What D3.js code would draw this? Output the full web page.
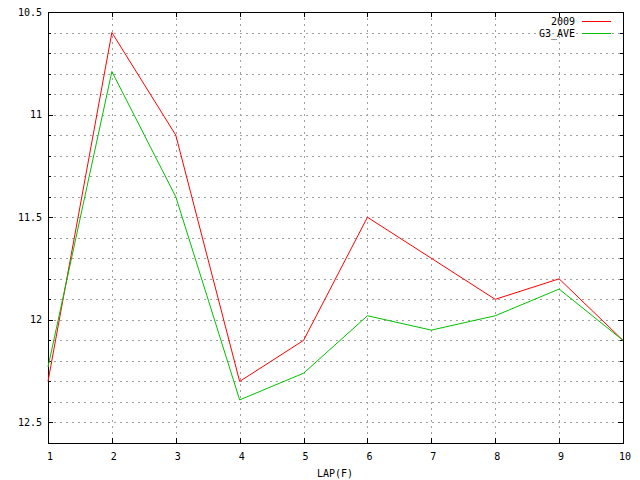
<!DOCTYPE html>
<html><head><meta charset="utf-8">
<script src="https://cdn.jsdelivr.net/npm/d3@7"></script>
<style>body{margin:0;background:#fff}svg{display:block}text{font-family:"DejaVu Sans Mono",monospace;font-size:10px;fill:#000}</style>
</head><body>
<script>
const laps = [1,2,3,4,5,6,7,8,9,10];
const s2009 = [12.3,10.6,11.1,12.3,12.1,11.5,11.7,11.9,11.8,12.1];
const g3ave = [12.23,10.79,11.4,12.39,12.26,11.98,12.05,11.98,11.85,12.1];
const yTicks = [10.5,11,11.5,12,12.5];
const seriesNames = ["2009","G3_AVE"];
const seriesColors = ["#ff0000","#00c000"];

const W=640,H=480,L=48,R=623,T=12,B=443;
const svg=d3.select("body").append("svg").attr("width",W).attr("height",H);
const x=d3.scaleLinear().domain([1,10]).range([L,R]);
const y=d3.scaleLinear().domain([10.5,12.6]).range([T,B]);
const minor=d3.range(106,126).map(v=>v/10);

const g=svg.append("g").attr("shape-rendering","crispEdges");
// grid
g.selectAll(".gh").data(minor.filter(v=>v>10.5&&v<12.6)).enter().append("line")
 .attr("x1",L).attr("x2",R).attr("y1",d=>Math.round(y(d))+0.5).attr("y2",d=>Math.round(y(d))+0.5)
 .attr("stroke","#a0a0a0").attr("stroke-dasharray","2,4");
g.selectAll(".gv").data(laps.slice(1,-1)).enter().append("line")
 .attr("y1",T).attr("y2",B).attr("x1",d=>Math.round(x(d))+0.5).attr("x2",d=>Math.round(x(d))+0.5)
 .attr("stroke","#a0a0a0").attr("stroke-dasharray","2,4");
// ticks
minor.concat([12.5,12.6]).forEach(v=>{
  const major=Math.abs(v*2-Math.round(v*2))<1e-6;
  const len=major?5:3, yy=Math.round(y(v))+0.5;
  g.append("line").attr("x1",L).attr("x2",L+len).attr("y1",yy).attr("y2",yy).attr("stroke","#000");
  g.append("line").attr("x1",R-len).attr("x2",R).attr("y1",yy).attr("y2",yy).attr("stroke","#000");
});
laps.forEach(v=>{
  const xx=Math.round(x(v))+0.5;
  g.append("line").attr("x1",xx).attr("x2",xx).attr("y1",B).attr("y2",B-5).attr("stroke","#000");
  g.append("line").attr("x1",xx).attr("x2",xx).attr("y1",T).attr("y2",T+5).attr("stroke","#000");
});
// frame
g.append("rect").attr("x",L+0.5).attr("y",T+0.5).attr("width",R-L).attr("height",B-T)
 .attr("fill","none").attr("stroke","#000");
// labels
svg.selectAll(".yl").data(yTicks).enter().append("text")
 .attr("x",L-6).attr("y",d=>y(d)).attr("dy","0.35em").attr("text-anchor","end").text(d=>d);
svg.selectAll(".xl").data(laps).enter().append("text")
 .attr("x",d=>x(d)+2).attr("y",B+13).attr("dy","0.35em").attr("text-anchor","middle").text(d=>d);
svg.append("text").attr("x",335).attr("y",473).attr("dy","0.35em").attr("text-anchor","middle").text("LAP(F)");
// lines
const line=d3.line().x((d,i)=>x(laps[i])).y(d=>y(d));
[s2009,g3ave].forEach((s,i)=>{
  svg.append("path").attr("d",line(s)).attr("fill","none").attr("stroke",seriesColors[i]).attr("stroke-width",1);
});
// legend
seriesNames.forEach((n,i)=>{
  const yy=21+i*12;
  svg.append("text").attr("x",575).attr("y",yy).attr("dy","0.35em").attr("text-anchor","end").text(n);
  svg.append("line").attr("x1",582).attr("x2",611).attr("y1",yy+0.5).attr("y2",yy+0.5)
   .attr("stroke",seriesColors[i]).attr("shape-rendering","crispEdges");
});
</script>
</body></html>
